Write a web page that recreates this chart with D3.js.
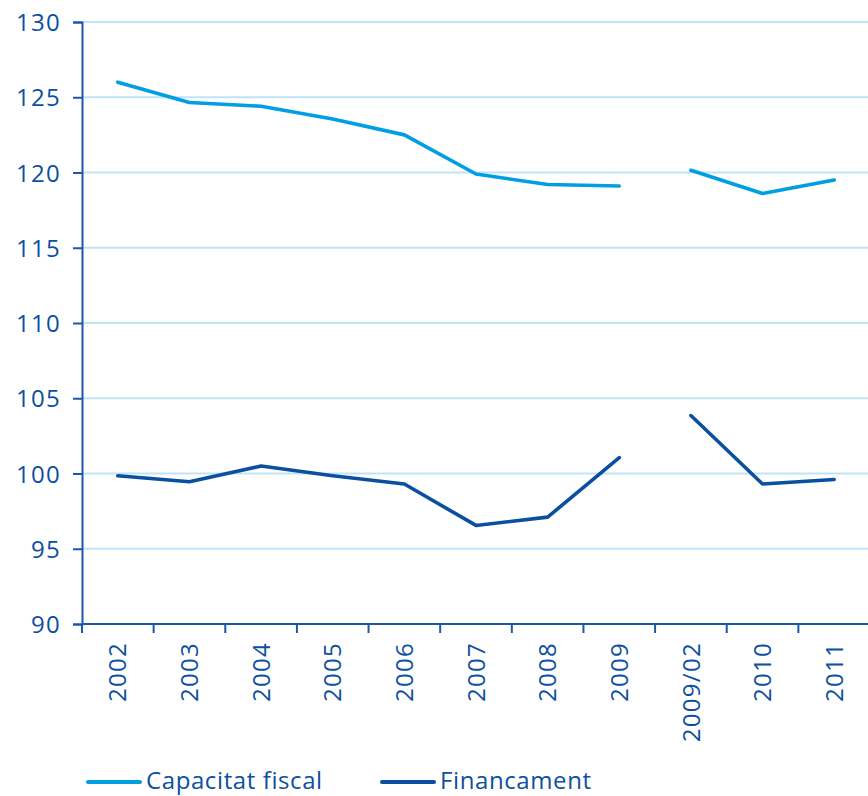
<!DOCTYPE html>
<html>
<head>
<meta charset="utf-8">
<script src="https://cdn.jsdelivr.net/npm/d3@7"></script>
<style>
  html, body { margin: 0; padding: 0; background: #fff; overflow: hidden; }
  svg { display: block; }
  text { font-family: "Open Sans", sans-serif; fill: #0d4fa0; }
</style>
</head>
<body>
<svg id="chart" width="868" height="796"></svg>
<script>
const categories = ["2002","2003","2004","2005","2006","2007","2008","2009","2009/02","2010","2011"];
const capacitatFiscal = [126.0, 124.65, 124.4, 123.55, 122.5, 119.9, 119.2, 119.1, 120.15, 118.6, 119.5];
const financament = [99.85, 99.45, 100.5, 99.85, 99.3, 96.55, 97.1, 101.05, 103.85, 99.3, 99.6];
// segment breaks: series split between 2009 and 2009/02
const segments = [[0, 7], [8, 10]];
const yTicks = [90, 95, 100, 105, 110, 115, 120, 125, 130];
const seriesNames = ["Capacitat fiscal", "Financament"];
const seriesColors = ["#009ee2", "#0b50a0"];

const svg = d3.select("#chart");
const axisColor = "#1d57a8";
const gridColor = "#bfe4f7";

const x = d3.scaleBand().domain(categories).range([82, 870]);
const y = d3.scaleLinear().domain([90, 130]).range([624, 22]);

// gridlines
svg.append("g").selectAll("line").data(yTicks.filter(d => d !== 90)).join("line")
  .attr("x1", 82).attr("x2", 868)
  .attr("y1", d => y(d)).attr("y2", d => y(d))
  .attr("stroke", gridColor).attr("stroke-width", 2);

// y axis
const yAxis = svg.append("g").attr("transform", "translate(82,0)")
  .call(d3.axisLeft(y).tickValues(yTicks).tickSize(9).tickPadding(12));
yAxis.select(".domain").attr("stroke", axisColor).attr("stroke-width", 2);
yAxis.selectAll(".tick line").attr("stroke", axisColor).attr("stroke-width", 2);
yAxis.selectAll(".tick text").attr("font-size", 24).attr("font-family", "Open Sans")
  .attr("font-weight", 500)
  .attr("letter-spacing", 1.3).attr("fill", "#0d4fa0").attr("dy", "0.36em");

// x axis
const xAxis = svg.append("g").attr("transform", "translate(0,624)")
  .call(d3.axisBottom(x).tickSize(0));
xAxis.select(".domain").attr("stroke", axisColor).attr("stroke-width", 2)
  .attr("d", "M82,0H868");
// tick marks at band boundaries
xAxis.append("g").selectAll("line").data(categories).join("line")
  .attr("x1", d => x(d)).attr("x2", d => x(d))
  .attr("y1", 0).attr("y2", 9)
  .attr("stroke", axisColor).attr("stroke-width", 2);
xAxis.selectAll(".tick text")
  .attr("font-size", 24).attr("font-family", "Open Sans").attr("letter-spacing", 1.3)
  .attr("font-weight", 500)
  .attr("fill", "#0d4fa0")
  .attr("transform", "rotate(-90)")
  .attr("text-anchor", "end")
  .attr("x", -18).attr("y", 0).attr("dy", "0.36em");

// lines
const line = d3.line().x((d, i) => x(d.c) + x.bandwidth() / 2).y(d => y(d.v));
[capacitatFiscal, financament].forEach((vals, si) => {
  segments.forEach(([a, b]) => {
    const pts = [];
    for (let i = a; i <= b; i++) pts.push({ c: categories[i], v: vals[i] });
    svg.append("path").datum(pts).attr("d", line)
      .attr("fill", "none").attr("stroke", seriesColors[si])
      .attr("stroke-width", 3.6).attr("stroke-linecap", "round").attr("stroke-linejoin", "round");
  });
});

// legend
const legendX = [88, 382];
const legend = svg.append("g");
seriesNames.forEach((name, i) => {
  legend.append("line").attr("x1", legendX[i]).attr("x2", legendX[i] + 52)
    .attr("y1", 782).attr("y2", 782)
    .attr("stroke", seriesColors[i]).attr("stroke-width", 4).attr("stroke-linecap", "round");
  legend.append("text").attr("x", legendX[i] + 58).attr("y", 789)
    .attr("font-size", 24).attr("font-weight", 500).attr("letter-spacing", 0.6)
    .attr("fill", "#0d4fa0").text(name);
});
</script>
</body>
</html>
